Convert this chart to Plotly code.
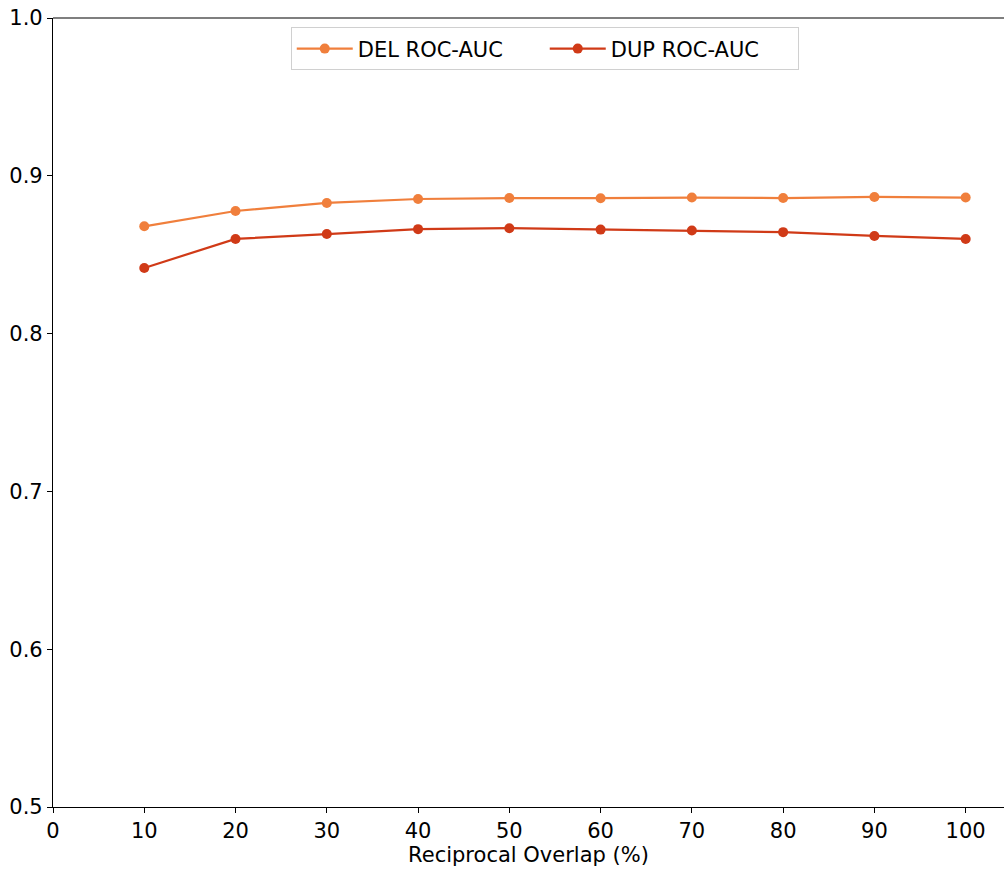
import plotly.graph_objects as go

# Reciprocal overlap thresholds (%) and ROC-AUC per SV type
overlap = [10, 20, 30, 40, 50, 60, 70, 80, 90, 100]
del_auc = [0.868, 0.8777, 0.8828, 0.8853, 0.8859, 0.8858, 0.8862, 0.8859, 0.8866, 0.8862]
dup_auc = [0.8416, 0.8600, 0.8631, 0.8662, 0.8668, 0.8659, 0.8653, 0.8643, 0.8619, 0.8600]

x_ticks = [0, 10, 20, 30, 40, 50, 60, 70, 80, 90, 100]
y_ticks = [0.5, 0.6, 0.7, 0.8, 0.9, 1.0]

DEL_COLOR = "#F07F3C"
DUP_COLOR = "#D03A17"

fig = go.Figure()
fig.add_trace(go.Scatter(
    x=overlap, y=del_auc, mode="lines+markers", name="DEL ROC-AUC",
    line=dict(color=DEL_COLOR, width=2.2), marker=dict(color=DEL_COLOR, size=10),
))
fig.add_trace(go.Scatter(
    x=overlap, y=dup_auc, mode="lines+markers", name="DUP ROC-AUC",
    line=dict(color=DUP_COLOR, width=2.2), marker=dict(color=DUP_COLOR, size=10),
))

axis_font = dict(family="DejaVu Sans", size=21, color="#000000")

fig.update_layout(
    width=1005, height=872,
    margin=dict(l=53, r=1, t=18, b=65),
    paper_bgcolor="white", plot_bgcolor="white",
    font=axis_font,
    showlegend=True,
    legend=dict(
        orientation="h", x=0.25, xanchor="left", y=0.988, yanchor="top",
        bgcolor="rgba(255,255,255,0.8)", bordercolor="#d0d0d0", borderwidth=1,
        font=dict(family="DejaVu Sans", size=21, color="#000000"),
        itemwidth=56, entrywidth=182,
    ),
    xaxis=dict(
        range=[0, 104.2], tickvals=x_ticks, ticks="outside", ticklen=5,
        tickcolor="#000000", showline=True, linecolor="#000000", linewidth=1.2,
        showgrid=False, zeroline=False,
        title=dict(text="Reciprocal Overlap (%)", font=axis_font, standoff=1),
        tickfont=axis_font,
    ),
    yaxis=dict(
        range=[0.5, 1.0], tickvals=y_ticks, ticktext=[f"{v:.1f}" for v in y_ticks],
        ticks="outside", ticklen=5, tickcolor="#000000",
        showline=True, linecolor="#000000", linewidth=1.2, mirror=False,
        showgrid=False, zeroline=False, tickfont=axis_font,
    ),
)

# top border of the plotting area
fig.add_shape(type="line", xref="paper", yref="paper", x0=0, x1=1, y0=1, y1=1,
              line=dict(color="#000000", width=1.2))

fig.write_html("out.html")
